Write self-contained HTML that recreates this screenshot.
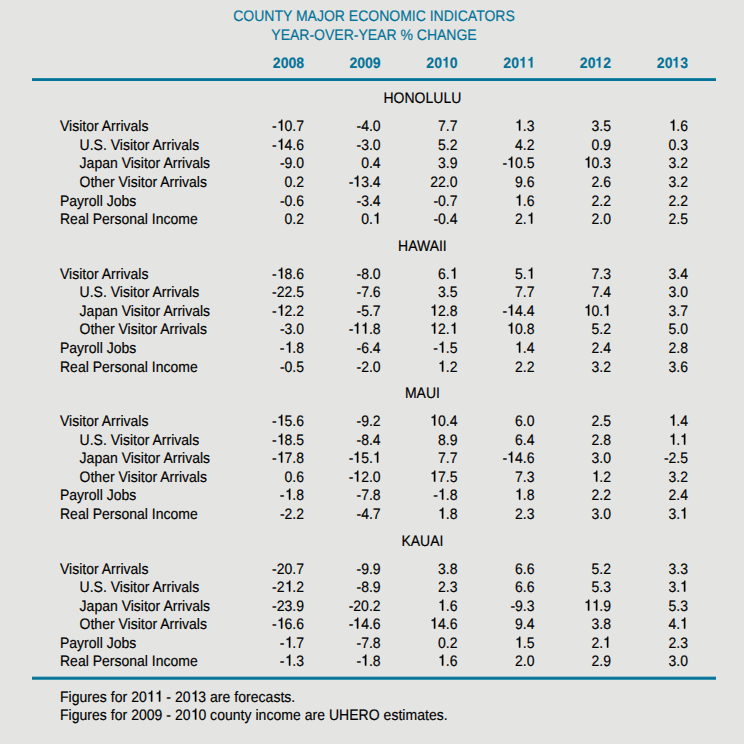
<!DOCTYPE html>
<html><head><meta charset="utf-8"><style>
html,body{margin:0;padding:0;}
body{width:744px;height:744px;background:#e4e4e2;position:relative;overflow:hidden;font-family:"Liberation Sans",sans-serif;font-size:14px;text-rendering:geometricPrecision;-webkit-text-stroke:0.15px;line-height:16px;color:#000;}
.a{position:absolute;white-space:nowrap;transform:scaleY(1.08);transform-origin:0 12.85px;}
.r{text-align:right;}
.t{color:#037399;}
.b{font-weight:bold;}
.ft{letter-spacing:0.03px;}
.one{display:inline-block;position:relative;width:7.786px;height:0;}
.one svg{position:absolute;left:0;top:-10.9px;width:7.786px;height:14px;overflow:visible;fill:currentColor;stroke:currentColor;stroke-width:30;}
.oneb svg{stroke-width:14;}
.ln{position:absolute;left:32px;width:684px;height:3px;background:#037399;}
</style></head><body>

<div class="a t" style="left:174px;width:400px;text-align:center;top:8.15px">COUNTY MAJOR ECONOMIC INDICATORS</div>
<div class="a t" style="left:174px;width:400px;text-align:center;top:27.15px">YEAR-OVER-YEAR % CHANGE</div>
<div class="a r t b" style="left:204px;width:100px;top:55.15px">2008</div>
<div class="a r t b" style="left:280.6px;width:100px;top:55.15px">2009</div>
<div class="a r t b" style="left:357.5px;width:100px;top:55.15px">20<span class="one oneb"><svg viewBox="0 -750 556 1000"><path d="M390 -695V0H262V-455H102V-550C215 -556 262 -592 280 -695Z"/></svg></span>0</div>
<div class="a r t b" style="left:434.5px;width:100px;top:55.15px">20<span class="one oneb"><svg viewBox="0 -750 556 1000"><path d="M390 -695V0H262V-455H102V-550C215 -556 262 -592 280 -695Z"/></svg></span><span class="one oneb"><svg viewBox="0 -750 556 1000"><path d="M390 -695V0H262V-455H102V-550C215 -556 262 -592 280 -695Z"/></svg></span></div>
<div class="a r t b" style="left:511px;width:100px;top:55.15px">20<span class="one oneb"><svg viewBox="0 -750 556 1000"><path d="M390 -695V0H262V-455H102V-550C215 -556 262 -592 280 -695Z"/></svg></span>2</div>
<div class="a r t b" style="left:588px;width:100px;top:55.15px">20<span class="one oneb"><svg viewBox="0 -750 556 1000"><path d="M390 -695V0H262V-455H102V-550C215 -556 262 -592 280 -695Z"/></svg></span>3</div>
<div class="ln" style="top:78px;height:3px;background:linear-gradient(#2586a3 0 1px,#037399 1px 3px)"></div>
<div class="a " style="left:222.39999999999998px;width:400px;text-align:center;top:90.15px">HONOLULU</div>
<div class="a " style="left:60px;top:118.15px">Visitor Arrivals</div>
<div class="a r " style="left:204px;width:100px;top:118.15px">-<span class="one"><svg viewBox="0 -750 556 1000"><path d="M372 -709V0H285V-503H125V-566C210 -578 228 -585 258 -606C286 -626 305 -656 317 -709Z"/></svg></span>0.7</div>
<div class="a r " style="left:280.6px;width:100px;top:118.15px">-4.0</div>
<div class="a r " style="left:357.5px;width:100px;top:118.15px">7.7</div>
<div class="a r " style="left:434.5px;width:100px;top:118.15px"><span class="one"><svg viewBox="0 -750 556 1000"><path d="M372 -709V0H285V-503H125V-566C210 -578 228 -585 258 -606C286 -626 305 -656 317 -709Z"/></svg></span>.3</div>
<div class="a r " style="left:511px;width:100px;top:118.15px">3.5</div>
<div class="a r " style="left:588px;width:100px;top:118.15px"><span class="one"><svg viewBox="0 -750 556 1000"><path d="M372 -709V0H285V-503H125V-566C210 -578 228 -585 258 -606C286 -626 305 -656 317 -709Z"/></svg></span>.6</div>
<div class="a " style="left:79.6px;top:137.15px">U.S. Visitor Arrivals</div>
<div class="a r " style="left:204px;width:100px;top:137.15px">-<span class="one"><svg viewBox="0 -750 556 1000"><path d="M372 -709V0H285V-503H125V-566C210 -578 228 -585 258 -606C286 -626 305 -656 317 -709Z"/></svg></span>4.6</div>
<div class="a r " style="left:280.6px;width:100px;top:137.15px">-3.0</div>
<div class="a r " style="left:357.5px;width:100px;top:137.15px">5.2</div>
<div class="a r " style="left:434.5px;width:100px;top:137.15px">4.2</div>
<div class="a r " style="left:511px;width:100px;top:137.15px">0.9</div>
<div class="a r " style="left:588px;width:100px;top:137.15px">0.3</div>
<div class="a " style="left:79.6px;top:155.15px">Japan Visitor Arrivals</div>
<div class="a r " style="left:204px;width:100px;top:155.15px">-9.0</div>
<div class="a r " style="left:280.6px;width:100px;top:155.15px">0.4</div>
<div class="a r " style="left:357.5px;width:100px;top:155.15px">3.9</div>
<div class="a r " style="left:434.5px;width:100px;top:155.15px">-<span class="one"><svg viewBox="0 -750 556 1000"><path d="M372 -709V0H285V-503H125V-566C210 -578 228 -585 258 -606C286 -626 305 -656 317 -709Z"/></svg></span>0.5</div>
<div class="a r " style="left:511px;width:100px;top:155.15px"><span class="one"><svg viewBox="0 -750 556 1000"><path d="M372 -709V0H285V-503H125V-566C210 -578 228 -585 258 -606C286 -626 305 -656 317 -709Z"/></svg></span>0.3</div>
<div class="a r " style="left:588px;width:100px;top:155.15px">3.2</div>
<div class="a " style="left:79.6px;top:174.15px">Other Visitor Arrivals</div>
<div class="a r " style="left:204px;width:100px;top:174.15px">0.2</div>
<div class="a r " style="left:280.6px;width:100px;top:174.15px">-<span class="one"><svg viewBox="0 -750 556 1000"><path d="M372 -709V0H285V-503H125V-566C210 -578 228 -585 258 -606C286 -626 305 -656 317 -709Z"/></svg></span>3.4</div>
<div class="a r " style="left:357.5px;width:100px;top:174.15px">22.0</div>
<div class="a r " style="left:434.5px;width:100px;top:174.15px">9.6</div>
<div class="a r " style="left:511px;width:100px;top:174.15px">2.6</div>
<div class="a r " style="left:588px;width:100px;top:174.15px">3.2</div>
<div class="a " style="left:60px;top:193.15px">Payroll Jobs</div>
<div class="a r " style="left:204px;width:100px;top:193.15px">-0.6</div>
<div class="a r " style="left:280.6px;width:100px;top:193.15px">-3.4</div>
<div class="a r " style="left:357.5px;width:100px;top:193.15px">-0.7</div>
<div class="a r " style="left:434.5px;width:100px;top:193.15px"><span class="one"><svg viewBox="0 -750 556 1000"><path d="M372 -709V0H285V-503H125V-566C210 -578 228 -585 258 -606C286 -626 305 -656 317 -709Z"/></svg></span>.6</div>
<div class="a r " style="left:511px;width:100px;top:193.15px">2.2</div>
<div class="a r " style="left:588px;width:100px;top:193.15px">2.2</div>
<div class="a " style="left:60px;top:211.15px">Real Personal Income</div>
<div class="a r " style="left:204px;width:100px;top:211.15px">0.2</div>
<div class="a r " style="left:280.6px;width:100px;top:211.15px">0.<span class="one"><svg viewBox="0 -750 556 1000"><path d="M372 -709V0H285V-503H125V-566C210 -578 228 -585 258 -606C286 -626 305 -656 317 -709Z"/></svg></span></div>
<div class="a r " style="left:357.5px;width:100px;top:211.15px">-0.4</div>
<div class="a r " style="left:434.5px;width:100px;top:211.15px">2.<span class="one"><svg viewBox="0 -750 556 1000"><path d="M372 -709V0H285V-503H125V-566C210 -578 228 -585 258 -606C286 -626 305 -656 317 -709Z"/></svg></span></div>
<div class="a r " style="left:511px;width:100px;top:211.15px">2.0</div>
<div class="a r " style="left:588px;width:100px;top:211.15px">2.5</div>
<div class="a " style="left:222.39999999999998px;width:400px;text-align:center;top:238.15px">HAWAII</div>
<div class="a " style="left:60px;top:266.15px">Visitor Arrivals</div>
<div class="a r " style="left:204px;width:100px;top:266.15px">-<span class="one"><svg viewBox="0 -750 556 1000"><path d="M372 -709V0H285V-503H125V-566C210 -578 228 -585 258 -606C286 -626 305 -656 317 -709Z"/></svg></span>8.6</div>
<div class="a r " style="left:280.6px;width:100px;top:266.15px">-8.0</div>
<div class="a r " style="left:357.5px;width:100px;top:266.15px">6.<span class="one"><svg viewBox="0 -750 556 1000"><path d="M372 -709V0H285V-503H125V-566C210 -578 228 -585 258 -606C286 -626 305 -656 317 -709Z"/></svg></span></div>
<div class="a r " style="left:434.5px;width:100px;top:266.15px">5.<span class="one"><svg viewBox="0 -750 556 1000"><path d="M372 -709V0H285V-503H125V-566C210 -578 228 -585 258 -606C286 -626 305 -656 317 -709Z"/></svg></span></div>
<div class="a r " style="left:511px;width:100px;top:266.15px">7.3</div>
<div class="a r " style="left:588px;width:100px;top:266.15px">3.4</div>
<div class="a " style="left:79.6px;top:284.15px">U.S. Visitor Arrivals</div>
<div class="a r " style="left:204px;width:100px;top:284.15px">-22.5</div>
<div class="a r " style="left:280.6px;width:100px;top:284.15px">-7.6</div>
<div class="a r " style="left:357.5px;width:100px;top:284.15px">3.5</div>
<div class="a r " style="left:434.5px;width:100px;top:284.15px">7.7</div>
<div class="a r " style="left:511px;width:100px;top:284.15px">7.4</div>
<div class="a r " style="left:588px;width:100px;top:284.15px">3.0</div>
<div class="a " style="left:79.6px;top:303.15px">Japan Visitor Arrivals</div>
<div class="a r " style="left:204px;width:100px;top:303.15px">-<span class="one"><svg viewBox="0 -750 556 1000"><path d="M372 -709V0H285V-503H125V-566C210 -578 228 -585 258 -606C286 -626 305 -656 317 -709Z"/></svg></span>2.2</div>
<div class="a r " style="left:280.6px;width:100px;top:303.15px">-5.7</div>
<div class="a r " style="left:357.5px;width:100px;top:303.15px"><span class="one"><svg viewBox="0 -750 556 1000"><path d="M372 -709V0H285V-503H125V-566C210 -578 228 -585 258 -606C286 -626 305 -656 317 -709Z"/></svg></span>2.8</div>
<div class="a r " style="left:434.5px;width:100px;top:303.15px">-<span class="one"><svg viewBox="0 -750 556 1000"><path d="M372 -709V0H285V-503H125V-566C210 -578 228 -585 258 -606C286 -626 305 -656 317 -709Z"/></svg></span>4.4</div>
<div class="a r " style="left:511px;width:100px;top:303.15px"><span class="one"><svg viewBox="0 -750 556 1000"><path d="M372 -709V0H285V-503H125V-566C210 -578 228 -585 258 -606C286 -626 305 -656 317 -709Z"/></svg></span>0.<span class="one"><svg viewBox="0 -750 556 1000"><path d="M372 -709V0H285V-503H125V-566C210 -578 228 -585 258 -606C286 -626 305 -656 317 -709Z"/></svg></span></div>
<div class="a r " style="left:588px;width:100px;top:303.15px">3.7</div>
<div class="a " style="left:79.6px;top:321.15px">Other Visitor Arrivals</div>
<div class="a r " style="left:204px;width:100px;top:321.15px">-3.0</div>
<div class="a r " style="left:280.6px;width:100px;top:321.15px">-<span class="one"><svg viewBox="0 -750 556 1000"><path d="M372 -709V0H285V-503H125V-566C210 -578 228 -585 258 -606C286 -626 305 -656 317 -709Z"/></svg></span><span class="one"><svg viewBox="0 -750 556 1000"><path d="M372 -709V0H285V-503H125V-566C210 -578 228 -585 258 -606C286 -626 305 -656 317 -709Z"/></svg></span>.8</div>
<div class="a r " style="left:357.5px;width:100px;top:321.15px"><span class="one"><svg viewBox="0 -750 556 1000"><path d="M372 -709V0H285V-503H125V-566C210 -578 228 -585 258 -606C286 -626 305 -656 317 -709Z"/></svg></span>2.<span class="one"><svg viewBox="0 -750 556 1000"><path d="M372 -709V0H285V-503H125V-566C210 -578 228 -585 258 -606C286 -626 305 -656 317 -709Z"/></svg></span></div>
<div class="a r " style="left:434.5px;width:100px;top:321.15px"><span class="one"><svg viewBox="0 -750 556 1000"><path d="M372 -709V0H285V-503H125V-566C210 -578 228 -585 258 -606C286 -626 305 -656 317 -709Z"/></svg></span>0.8</div>
<div class="a r " style="left:511px;width:100px;top:321.15px">5.2</div>
<div class="a r " style="left:588px;width:100px;top:321.15px">5.0</div>
<div class="a " style="left:60px;top:340.15px">Payroll Jobs</div>
<div class="a r " style="left:204px;width:100px;top:340.15px">-<span class="one"><svg viewBox="0 -750 556 1000"><path d="M372 -709V0H285V-503H125V-566C210 -578 228 -585 258 -606C286 -626 305 -656 317 -709Z"/></svg></span>.8</div>
<div class="a r " style="left:280.6px;width:100px;top:340.15px">-6.4</div>
<div class="a r " style="left:357.5px;width:100px;top:340.15px">-<span class="one"><svg viewBox="0 -750 556 1000"><path d="M372 -709V0H285V-503H125V-566C210 -578 228 -585 258 -606C286 -626 305 -656 317 -709Z"/></svg></span>.5</div>
<div class="a r " style="left:434.5px;width:100px;top:340.15px"><span class="one"><svg viewBox="0 -750 556 1000"><path d="M372 -709V0H285V-503H125V-566C210 -578 228 -585 258 -606C286 -626 305 -656 317 -709Z"/></svg></span>.4</div>
<div class="a r " style="left:511px;width:100px;top:340.15px">2.4</div>
<div class="a r " style="left:588px;width:100px;top:340.15px">2.8</div>
<div class="a " style="left:60px;top:359.15px">Real Personal Income</div>
<div class="a r " style="left:204px;width:100px;top:359.15px">-0.5</div>
<div class="a r " style="left:280.6px;width:100px;top:359.15px">-2.0</div>
<div class="a r " style="left:357.5px;width:100px;top:359.15px"><span class="one"><svg viewBox="0 -750 556 1000"><path d="M372 -709V0H285V-503H125V-566C210 -578 228 -585 258 -606C286 -626 305 -656 317 -709Z"/></svg></span>.2</div>
<div class="a r " style="left:434.5px;width:100px;top:359.15px">2.2</div>
<div class="a r " style="left:511px;width:100px;top:359.15px">3.2</div>
<div class="a r " style="left:588px;width:100px;top:359.15px">3.6</div>
<div class="a " style="left:222.39999999999998px;width:400px;text-align:center;top:385.15px">MAUI</div>
<div class="a " style="left:60px;top:413.15px">Visitor Arrivals</div>
<div class="a r " style="left:204px;width:100px;top:413.15px">-<span class="one"><svg viewBox="0 -750 556 1000"><path d="M372 -709V0H285V-503H125V-566C210 -578 228 -585 258 -606C286 -626 305 -656 317 -709Z"/></svg></span>5.6</div>
<div class="a r " style="left:280.6px;width:100px;top:413.15px">-9.2</div>
<div class="a r " style="left:357.5px;width:100px;top:413.15px"><span class="one"><svg viewBox="0 -750 556 1000"><path d="M372 -709V0H285V-503H125V-566C210 -578 228 -585 258 -606C286 -626 305 -656 317 -709Z"/></svg></span>0.4</div>
<div class="a r " style="left:434.5px;width:100px;top:413.15px">6.0</div>
<div class="a r " style="left:511px;width:100px;top:413.15px">2.5</div>
<div class="a r " style="left:588px;width:100px;top:413.15px"><span class="one"><svg viewBox="0 -750 556 1000"><path d="M372 -709V0H285V-503H125V-566C210 -578 228 -585 258 -606C286 -626 305 -656 317 -709Z"/></svg></span>.4</div>
<div class="a " style="left:79.6px;top:432.15px">U.S. Visitor Arrivals</div>
<div class="a r " style="left:204px;width:100px;top:432.15px">-<span class="one"><svg viewBox="0 -750 556 1000"><path d="M372 -709V0H285V-503H125V-566C210 -578 228 -585 258 -606C286 -626 305 -656 317 -709Z"/></svg></span>8.5</div>
<div class="a r " style="left:280.6px;width:100px;top:432.15px">-8.4</div>
<div class="a r " style="left:357.5px;width:100px;top:432.15px">8.9</div>
<div class="a r " style="left:434.5px;width:100px;top:432.15px">6.4</div>
<div class="a r " style="left:511px;width:100px;top:432.15px">2.8</div>
<div class="a r " style="left:588px;width:100px;top:432.15px"><span class="one"><svg viewBox="0 -750 556 1000"><path d="M372 -709V0H285V-503H125V-566C210 -578 228 -585 258 -606C286 -626 305 -656 317 -709Z"/></svg></span>.<span class="one"><svg viewBox="0 -750 556 1000"><path d="M372 -709V0H285V-503H125V-566C210 -578 228 -585 258 -606C286 -626 305 -656 317 -709Z"/></svg></span></div>
<div class="a " style="left:79.6px;top:450.15px">Japan Visitor Arrivals</div>
<div class="a r " style="left:204px;width:100px;top:450.15px">-<span class="one"><svg viewBox="0 -750 556 1000"><path d="M372 -709V0H285V-503H125V-566C210 -578 228 -585 258 -606C286 -626 305 -656 317 -709Z"/></svg></span>7.8</div>
<div class="a r " style="left:280.6px;width:100px;top:450.15px">-<span class="one"><svg viewBox="0 -750 556 1000"><path d="M372 -709V0H285V-503H125V-566C210 -578 228 -585 258 -606C286 -626 305 -656 317 -709Z"/></svg></span>5.<span class="one"><svg viewBox="0 -750 556 1000"><path d="M372 -709V0H285V-503H125V-566C210 -578 228 -585 258 -606C286 -626 305 -656 317 -709Z"/></svg></span></div>
<div class="a r " style="left:357.5px;width:100px;top:450.15px">7.7</div>
<div class="a r " style="left:434.5px;width:100px;top:450.15px">-<span class="one"><svg viewBox="0 -750 556 1000"><path d="M372 -709V0H285V-503H125V-566C210 -578 228 -585 258 -606C286 -626 305 -656 317 -709Z"/></svg></span>4.6</div>
<div class="a r " style="left:511px;width:100px;top:450.15px">3.0</div>
<div class="a r " style="left:588px;width:100px;top:450.15px">-2.5</div>
<div class="a " style="left:79.6px;top:469.15px">Other Visitor Arrivals</div>
<div class="a r " style="left:204px;width:100px;top:469.15px">0.6</div>
<div class="a r " style="left:280.6px;width:100px;top:469.15px">-<span class="one"><svg viewBox="0 -750 556 1000"><path d="M372 -709V0H285V-503H125V-566C210 -578 228 -585 258 -606C286 -626 305 -656 317 -709Z"/></svg></span>2.0</div>
<div class="a r " style="left:357.5px;width:100px;top:469.15px"><span class="one"><svg viewBox="0 -750 556 1000"><path d="M372 -709V0H285V-503H125V-566C210 -578 228 -585 258 -606C286 -626 305 -656 317 -709Z"/></svg></span>7.5</div>
<div class="a r " style="left:434.5px;width:100px;top:469.15px">7.3</div>
<div class="a r " style="left:511px;width:100px;top:469.15px"><span class="one"><svg viewBox="0 -750 556 1000"><path d="M372 -709V0H285V-503H125V-566C210 -578 228 -585 258 -606C286 -626 305 -656 317 -709Z"/></svg></span>.2</div>
<div class="a r " style="left:588px;width:100px;top:469.15px">3.2</div>
<div class="a " style="left:60px;top:487.15px">Payroll Jobs</div>
<div class="a r " style="left:204px;width:100px;top:487.15px">-<span class="one"><svg viewBox="0 -750 556 1000"><path d="M372 -709V0H285V-503H125V-566C210 -578 228 -585 258 -606C286 -626 305 -656 317 -709Z"/></svg></span>.8</div>
<div class="a r " style="left:280.6px;width:100px;top:487.15px">-7.8</div>
<div class="a r " style="left:357.5px;width:100px;top:487.15px">-<span class="one"><svg viewBox="0 -750 556 1000"><path d="M372 -709V0H285V-503H125V-566C210 -578 228 -585 258 -606C286 -626 305 -656 317 -709Z"/></svg></span>.8</div>
<div class="a r " style="left:434.5px;width:100px;top:487.15px"><span class="one"><svg viewBox="0 -750 556 1000"><path d="M372 -709V0H285V-503H125V-566C210 -578 228 -585 258 -606C286 -626 305 -656 317 -709Z"/></svg></span>.8</div>
<div class="a r " style="left:511px;width:100px;top:487.15px">2.2</div>
<div class="a r " style="left:588px;width:100px;top:487.15px">2.4</div>
<div class="a " style="left:60px;top:506.15px">Real Personal Income</div>
<div class="a r " style="left:204px;width:100px;top:506.15px">-2.2</div>
<div class="a r " style="left:280.6px;width:100px;top:506.15px">-4.7</div>
<div class="a r " style="left:357.5px;width:100px;top:506.15px"><span class="one"><svg viewBox="0 -750 556 1000"><path d="M372 -709V0H285V-503H125V-566C210 -578 228 -585 258 -606C286 -626 305 -656 317 -709Z"/></svg></span>.8</div>
<div class="a r " style="left:434.5px;width:100px;top:506.15px">2.3</div>
<div class="a r " style="left:511px;width:100px;top:506.15px">3.0</div>
<div class="a r " style="left:588px;width:100px;top:506.15px">3.<span class="one"><svg viewBox="0 -750 556 1000"><path d="M372 -709V0H285V-503H125V-566C210 -578 228 -585 258 -606C286 -626 305 -656 317 -709Z"/></svg></span></div>
<div class="a " style="left:222.39999999999998px;width:400px;text-align:center;top:533.15px">KAUAI</div>
<div class="a " style="left:60px;top:561.15px">Visitor Arrivals</div>
<div class="a r " style="left:204px;width:100px;top:561.15px">-20.7</div>
<div class="a r " style="left:280.6px;width:100px;top:561.15px">-9.9</div>
<div class="a r " style="left:357.5px;width:100px;top:561.15px">3.8</div>
<div class="a r " style="left:434.5px;width:100px;top:561.15px">6.6</div>
<div class="a r " style="left:511px;width:100px;top:561.15px">5.2</div>
<div class="a r " style="left:588px;width:100px;top:561.15px">3.3</div>
<div class="a " style="left:79.6px;top:579.15px">U.S. Visitor Arrivals</div>
<div class="a r " style="left:204px;width:100px;top:579.15px">-2<span class="one"><svg viewBox="0 -750 556 1000"><path d="M372 -709V0H285V-503H125V-566C210 -578 228 -585 258 -606C286 -626 305 -656 317 -709Z"/></svg></span>.2</div>
<div class="a r " style="left:280.6px;width:100px;top:579.15px">-8.9</div>
<div class="a r " style="left:357.5px;width:100px;top:579.15px">2.3</div>
<div class="a r " style="left:434.5px;width:100px;top:579.15px">6.6</div>
<div class="a r " style="left:511px;width:100px;top:579.15px">5.3</div>
<div class="a r " style="left:588px;width:100px;top:579.15px">3.<span class="one"><svg viewBox="0 -750 556 1000"><path d="M372 -709V0H285V-503H125V-566C210 -578 228 -585 258 -606C286 -626 305 -656 317 -709Z"/></svg></span></div>
<div class="a " style="left:79.6px;top:598.15px">Japan Visitor Arrivals</div>
<div class="a r " style="left:204px;width:100px;top:598.15px">-23.9</div>
<div class="a r " style="left:280.6px;width:100px;top:598.15px">-20.2</div>
<div class="a r " style="left:357.5px;width:100px;top:598.15px"><span class="one"><svg viewBox="0 -750 556 1000"><path d="M372 -709V0H285V-503H125V-566C210 -578 228 -585 258 -606C286 -626 305 -656 317 -709Z"/></svg></span>.6</div>
<div class="a r " style="left:434.5px;width:100px;top:598.15px">-9.3</div>
<div class="a r " style="left:511px;width:100px;top:598.15px"><span class="one"><svg viewBox="0 -750 556 1000"><path d="M372 -709V0H285V-503H125V-566C210 -578 228 -585 258 -606C286 -626 305 -656 317 -709Z"/></svg></span><span class="one"><svg viewBox="0 -750 556 1000"><path d="M372 -709V0H285V-503H125V-566C210 -578 228 -585 258 -606C286 -626 305 -656 317 -709Z"/></svg></span>.9</div>
<div class="a r " style="left:588px;width:100px;top:598.15px">5.3</div>
<div class="a " style="left:79.6px;top:616.15px">Other Visitor Arrivals</div>
<div class="a r " style="left:204px;width:100px;top:616.15px">-<span class="one"><svg viewBox="0 -750 556 1000"><path d="M372 -709V0H285V-503H125V-566C210 -578 228 -585 258 -606C286 -626 305 -656 317 -709Z"/></svg></span>6.6</div>
<div class="a r " style="left:280.6px;width:100px;top:616.15px">-<span class="one"><svg viewBox="0 -750 556 1000"><path d="M372 -709V0H285V-503H125V-566C210 -578 228 -585 258 -606C286 -626 305 -656 317 -709Z"/></svg></span>4.6</div>
<div class="a r " style="left:357.5px;width:100px;top:616.15px"><span class="one"><svg viewBox="0 -750 556 1000"><path d="M372 -709V0H285V-503H125V-566C210 -578 228 -585 258 -606C286 -626 305 -656 317 -709Z"/></svg></span>4.6</div>
<div class="a r " style="left:434.5px;width:100px;top:616.15px">9.4</div>
<div class="a r " style="left:511px;width:100px;top:616.15px">3.8</div>
<div class="a r " style="left:588px;width:100px;top:616.15px">4.<span class="one"><svg viewBox="0 -750 556 1000"><path d="M372 -709V0H285V-503H125V-566C210 -578 228 -585 258 -606C286 -626 305 -656 317 -709Z"/></svg></span></div>
<div class="a " style="left:60px;top:635.15px">Payroll Jobs</div>
<div class="a r " style="left:204px;width:100px;top:635.15px">-<span class="one"><svg viewBox="0 -750 556 1000"><path d="M372 -709V0H285V-503H125V-566C210 -578 228 -585 258 -606C286 -626 305 -656 317 -709Z"/></svg></span>.7</div>
<div class="a r " style="left:280.6px;width:100px;top:635.15px">-7.8</div>
<div class="a r " style="left:357.5px;width:100px;top:635.15px">0.2</div>
<div class="a r " style="left:434.5px;width:100px;top:635.15px"><span class="one"><svg viewBox="0 -750 556 1000"><path d="M372 -709V0H285V-503H125V-566C210 -578 228 -585 258 -606C286 -626 305 -656 317 -709Z"/></svg></span>.5</div>
<div class="a r " style="left:511px;width:100px;top:635.15px">2.<span class="one"><svg viewBox="0 -750 556 1000"><path d="M372 -709V0H285V-503H125V-566C210 -578 228 -585 258 -606C286 -626 305 -656 317 -709Z"/></svg></span></div>
<div class="a r " style="left:588px;width:100px;top:635.15px">2.3</div>
<div class="a " style="left:60px;top:653.15px">Real Personal Income</div>
<div class="a r " style="left:204px;width:100px;top:653.15px">-<span class="one"><svg viewBox="0 -750 556 1000"><path d="M372 -709V0H285V-503H125V-566C210 -578 228 -585 258 -606C286 -626 305 -656 317 -709Z"/></svg></span>.3</div>
<div class="a r " style="left:280.6px;width:100px;top:653.15px">-<span class="one"><svg viewBox="0 -750 556 1000"><path d="M372 -709V0H285V-503H125V-566C210 -578 228 -585 258 -606C286 -626 305 -656 317 -709Z"/></svg></span>.8</div>
<div class="a r " style="left:357.5px;width:100px;top:653.15px"><span class="one"><svg viewBox="0 -750 556 1000"><path d="M372 -709V0H285V-503H125V-566C210 -578 228 -585 258 -606C286 -626 305 -656 317 -709Z"/></svg></span>.6</div>
<div class="a r " style="left:434.5px;width:100px;top:653.15px">2.0</div>
<div class="a r " style="left:511px;width:100px;top:653.15px">2.9</div>
<div class="a r " style="left:588px;width:100px;top:653.15px">3.0</div>
<div class="ln" style="top:676px;height:4px;background:linear-gradient(#9cc0cb 0 1px,#127b9d 1px 2px,#037399 2px 3px,#3d92ac 3px 4px)"></div>
<div class="a ft" style="left:60px;top:688.65px">Figures for 20<span class="one"><svg viewBox="0 -750 556 1000"><path d="M372 -709V0H285V-503H125V-566C210 -578 228 -585 258 -606C286 -626 305 -656 317 -709Z"/></svg></span><span class="one"><svg viewBox="0 -750 556 1000"><path d="M372 -709V0H285V-503H125V-566C210 -578 228 -585 258 -606C286 -626 305 -656 317 -709Z"/></svg></span> - 20<span class="one"><svg viewBox="0 -750 556 1000"><path d="M372 -709V0H285V-503H125V-566C210 -578 228 -585 258 -606C286 -626 305 -656 317 -709Z"/></svg></span>3 are forecasts.</div>
<div class="a ft" style="left:60px;top:706.65px">Figures for 2009 - 20<span class="one"><svg viewBox="0 -750 556 1000"><path d="M372 -709V0H285V-503H125V-566C210 -578 228 -585 258 -606C286 -626 305 -656 317 -709Z"/></svg></span>0 county income are UHERO estimates.</div>
</body></html>
